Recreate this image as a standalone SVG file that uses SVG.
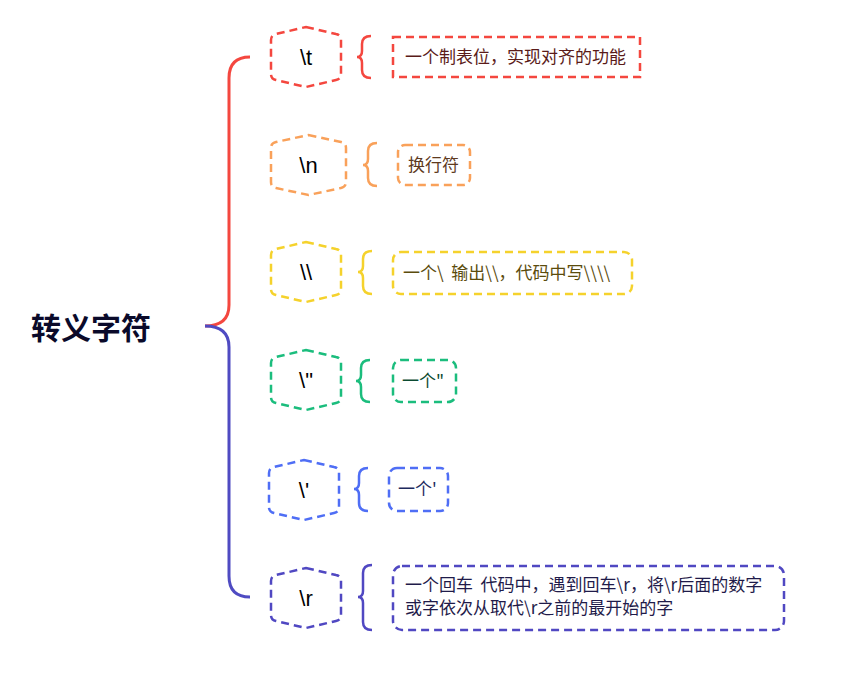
<svg xmlns="http://www.w3.org/2000/svg" width="843" height="676" viewBox="0 0 843 676">
<style>
.hex{fill:none;stroke-width:2.5;stroke-dasharray:8 5;}
.box{fill:none;stroke-width:2.5;stroke-dasharray:8 5;}
.br{fill:none;stroke-width:2.5;}
.lbl{font-family:"Liberation Sans","Noto Sans",sans-serif;font-size:22px;fill:#000;text-anchor:middle;}
.txt{font-family:"Noto Sans CJK SC","Liberation Sans",sans-serif;font-size:17px;white-space:pre;}
.txt2{font-family:"Noto Sans CJK SC","Liberation Sans",sans-serif;font-size:17px;white-space:pre;}
.title{font-family:"Noto Sans CJK SC",sans-serif;font-size:30px;font-weight:bold;fill:#0a0a2a;}
.red{stroke:#f4473f;} .org{stroke:#f9a15a;} .yel{stroke:#f5d22c;} .grn{stroke:#1bbd7d;} .blu{stroke:#4f6ef5;} .pur{stroke:#5048c2;}
</style>
<defs>
<path id="hexp" d="M0 -30 L30 -23 Q35 -22 35 -17 L35 17 Q35 22 30 23 L0 30 L-30 23 Q-35 22 -35 17 L-35 -17 Q-35 -22 -30 -23 Z"/>
</defs>
<rect width="843" height="676" fill="#fff"/>
<g id="root">
<text class="title" x="31" y="339">转义字符</text>
</g>
<g id="connectors">
<path class="br" style="stroke-width:3" stroke="#f4473f" d="M250 57 Q229 57 229 78 L229 305 Q229 326 205 326"/>
<path class="br" style="stroke-width:3" stroke="#4f4bc2" d="M205 326 Q229 326 229 347 L229 576 Q229 597 250 597"/>
<path class="br red" d="M371 36 Q362 36 362 44 L362 51 Q362 57 357 57 Q362 57 362 63 L362 70 Q362 78 371 78"/>
<path class="br org" d="M377 143 Q368 143 368 151 L368 159 Q368 165 363 165 Q368 165 368 171 L368 178 Q368 186 377 186"/>
<path class="br yel" d="M372 251 Q363 251 363 259 L363 266 Q363 272 358 272 Q363 272 363 278 L363 286 Q363 294 372 294"/>
<path class="br grn" d="M370 360 Q361 360 361 368 L361 375 Q361 381 356 381 Q361 381 361 387 L361 394 Q361 402 370 402"/>
<path class="br blu" d="M368 468 Q359 468 359 476 L359 483 Q359 489 354 489 Q359 489 359 495 L359 503 Q359 511 368 511"/>
<path class="br pur" d="M372 565 Q363 565 363 573 L363 591 Q363 597 358 597 Q363 597 363 603 L363 622 Q363 630 372 630"/>
</g>
<g id="n-t">
<use href="#hexp" class="hex red" x="306" y="57"/>
<text class="lbl" x="306" y="65">\t</text>
</g>
<g id="d-t">
<rect class="box red" x="393" y="37" width="247" height="40"/>
<text class="txt" x="405" y="63" fill="#5a1b19">一个制表位，实现对齐的功能</text>
</g>
<g id="n-n">
<path class="hex org" d="M308.5 135 L341 142 Q346 143 346 148 L346 182 Q346 187 341 188 L308.5 195 L276 188 Q271 187 271 182 L271 148 Q271 143 276 142 Z"/>
<text class="lbl" x="308.5" y="173">\n</text>
</g>
<g id="d-n">
<rect class="box org" x="398" y="145" width="72" height="40" rx="7"/>
<text class="txt" x="408" y="171" fill="#5e3a1e">换行符</text>
</g>
<g id="n-bs">
<use href="#hexp" class="hex yel" x="306" y="272"/>
<text class="lbl" x="306" y="280">\\</text>
</g>
<g id="d-bs">
<rect class="box yel" x="393" y="252" width="239" height="42" rx="8"/>
<text class="txt" x="403" y="279" fill="#5b4c0d">一个\  输出\\，代码中写\\\\</text>
</g>
<g id="n-q">
<use href="#hexp" class="hex grn" x="306" y="380"/>
<text class="lbl" x="306" y="388">\"</text>
</g>
<g id="d-q">
<rect class="box grn" x="393" y="360" width="63" height="42" rx="8"/>
<text class="txt" x="402" y="387" fill="#0b4a31">一个"</text>
</g>
<g id="n-a">
<use href="#hexp" class="hex blu" x="304" y="490"/>
<text class="lbl" x="304" y="498">\'</text>
</g>
<g id="d-a">
<rect class="box blu" x="389" y="468" width="59" height="43" rx="8"/>
<text class="txt" x="398" y="495" fill="#1d2a5e">一个'</text>
</g>
<g id="n-r">
<use href="#hexp" class="hex pur" x="306" y="598"/>
<text class="lbl" x="306" y="606">\r</text>
</g>
<g id="d-r">
<rect class="box pur" x="393" y="566" width="391" height="64" rx="9"/>
<text class="txt2" x="405" y="591" fill="#1f1b4a">一个回车  代码中，遇到回车\r，将\r后面的数字</text>
<text class="txt2" x="405" y="614" fill="#1f1b4a">或字依次从取代\r之前的最开始的字</text>
</g>
</svg>
